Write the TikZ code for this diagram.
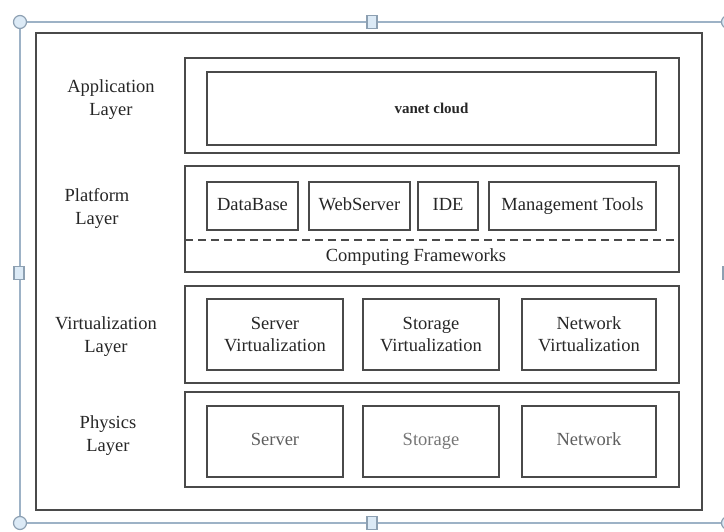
\documentclass[tikz,border=0pt]{standalone}
\usepackage{fontspec}
\setmainfont{Liberation Serif}
\begin{document}
\begin{tikzpicture}[x=1pt,y=-1pt,
  selline/.style={draw=selblue,line width=2.2pt},
  handle/.style={draw=selblue!90!black,fill=selfill,line width=1.2pt},
  layerbox/.style={draw=boxgray,line width=1.8pt,rectangle,inner sep=0pt},
  itembox/.style={draw=boxgray,line width=1.8pt,rectangle,inner sep=0pt,align=center,
    font=\fontsize{18.5}{22}\selectfont,text=txtgray},
  single/.style={text height=12.5pt,text depth=4pt},
  layerlabel/.style={align=center,font=\fontsize{18.5}{23}\selectfont,text=txtgray},
]
\definecolor{selblue}{HTML}{9DB2C6}
\definecolor{selfill}{HTML}{DCEAF6}
\definecolor{boxgray}{HTML}{4A4A4A}
\definecolor{txtgray}{HTML}{262626}
\definecolor{lightgray}{HTML}{5E5E5E}
\useasboundingbox (0,0) rectangle (724,531);
\clip (0,0) rectangle (724,531);
% selection frame
\coordinate (s1) at (20,22);
\coordinate (s2) at (728,22);
\coordinate (s3) at (728,523);
\coordinate (s4) at (20,523);
\draw[selline] (s1) -- (s2) -- (s3) -- (s4) -- cycle;
% outer frame
\node[layerbox,minimum width=666,minimum height=477] (outer) at (369,271.5) {};
% handles
\node[handle,circle,minimum size=13,inner sep=0pt] (h1) at (s1) {};
\node[handle,circle,minimum size=13,inner sep=0pt] (h2) at (s2) {};
\node[handle,circle,minimum size=13,inner sep=0pt] (h3) at (s3) {};
\node[handle,circle,minimum size=13,inner sep=0pt] (h4) at (s4) {};
\node[handle,rectangle,minimum width=10,minimum height=13,inner sep=0pt] (m1) at (372,22) {};
\node[handle,rectangle,minimum width=10,minimum height=13,inner sep=0pt] (m2) at (372,523) {};
\node[handle,rectangle,minimum width=10,minimum height=13,inner sep=0pt] (m3) at (19,273) {};
\node[handle,rectangle,minimum width=10,minimum height=13,inner sep=0pt] (m4) at (728,273) {};
% application layer
\node[layerlabel] (lapp) at (111,100) {Application\\Layer};
\node[layerbox,minimum width=494,minimum height=95] (app) at (432,105.5) {};
\node[itembox,minimum width=449,minimum height=73,font=\fontsize{15}{17}\bfseries\selectfont] (vanet) at (431.5,108.5) {vanet cloud};
% platform layer
\node[layerlabel] (lplat) at (97,208) {Platform\\Layer};
\node[layerbox,minimum width=494,minimum height=106] (plat) at (432,219) {};
\node[itembox,single,minimum width=91,minimum height=48] (db) at (252.5,206) {DataBase};
\node[itembox,single,minimum width=101,minimum height=48] (ws) at (359.5,206) {WebServer};
\node[itembox,single,minimum width=60,minimum height=48] (ide) at (448,206) {IDE};
\node[itembox,single,minimum width=167,minimum height=48] (mt) at (572.5,206) {Management Tools};
\coordinate (dl) at (185,240);
\coordinate (dr) at (679,240);
\draw[boxgray,line width=1.6pt,dash pattern=on 8pt off 5pt] (dl) -- (dr);
\node[single,font=\fontsize{18.5}{22}\selectfont,text=txtgray] (cf) at (416,257) {Computing Frameworks};
% virtualization layer
\node[layerlabel] (lvirt) at (106,337) {Virtualization\\Layer};
\node[layerbox,minimum width=494,minimum height=97] (virt) at (432,334.5) {};
\node[itembox,minimum width=136,minimum height=71] (sv) at (275,334.5) {Server\\Virtualization};
\node[itembox,minimum width=136,minimum height=71] (stv) at (431,334.5) {Storage\\Virtualization};
\node[itembox,minimum width=134,minimum height=71] (nv) at (589,334.5) {Network\\Virtualization};
% physics layer
\node[layerlabel] (lphys) at (108,436) {Physics\\Layer};
\node[layerbox,minimum width=494,minimum height=95] (phys) at (432,439.5) {};
\node[itembox,single,minimum width=136,minimum height=71,text=lightgray] (srv) at (275,441.5) {Server};
\node[itembox,single,minimum width=136,minimum height=71,text=lightgray!85] (sto) at (431,441.5) {Storage};
\node[itembox,single,minimum width=134,minimum height=71,text=lightgray] (net) at (589,441.5) {Network};
\end{tikzpicture}
\end{document}
